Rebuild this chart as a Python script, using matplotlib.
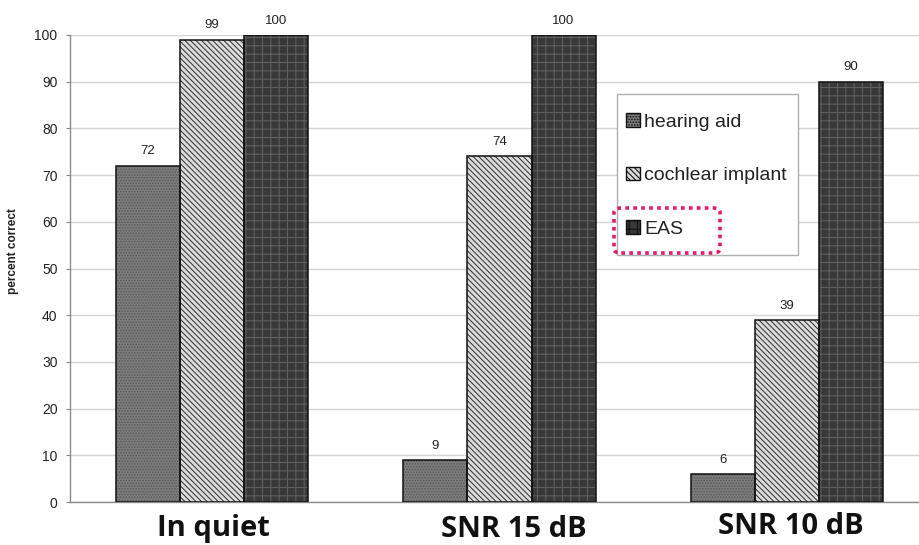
import matplotlib
matplotlib.use("Agg")
import matplotlib.pyplot as plt
from matplotlib.patches import Patch, Rectangle, FancyBboxPatch
from matplotlib.transforms import blended_transform_factory
import numpy as np

plt.rcParams['font.family'] = ['Liberation Sans', 'DejaVu Sans']
plt.rcParams['hatch.linewidth'] = 0.8

# Data
conditions = ["In quiet", "SNR 15 dB", "SNR 10 dB"]
series = ["hearing aid", "cochlear implant", "EAS"]
hearing_aid = [72, 9, 6]
cochlear_implant = [99, 74, 39]
eas = [100, 100, 90]
y_ticks = [0, 10, 20, 30, 40, 50, 60, 70, 80, 90, 100]

# Styles per series: face colour, hatch pattern, hatch colour
styles = [
    ("#7d7d7d", "......", "#5a5a5a"),
    ("#dcdcdc", "\\\\\\\\\\\\", "#404040"),
    ("#383838", "++", "#5e5e5e"),
]

W, H = 920, 545
fig = plt.figure(figsize=(W / 100, H / 100), dpi=100)
ax = fig.add_axes([70 / W, 1 - 502 / H, 850 / W, (502 - 35) / H])

x = np.arange(len(conditions))
width = 0.223
offsets = [-width, 0.0, width]
values = [hearing_aid, cochlear_implant, eas]

for vals, off, (fc, hatch, hc) in zip(values, offsets, styles):
    pos = x + off
    ax.bar(pos, vals, width, color=fc, edgecolor="none", zorder=2)
    ax.bar(pos, vals, width, color="none", edgecolor=hc, hatch=hatch,
           linewidth=0, zorder=3)
    ax.bar(pos, vals, width, color="none", edgecolor="#111111",
           linewidth=1.1, zorder=4)
    for xi, v in zip(pos, vals):
        ax.annotate(f"{v}", (xi, v), xytext=(0, 6), textcoords="offset points",
                    ha="center", va="bottom", fontsize=9.5, color="#222222")

ax.set_xlim(-0.494, 2.463)
ax.set_ylim(0, 100)
ax.set_yticks(y_ticks)
ax.tick_params(axis="y", labelsize=10, length=3, color="#888888",
               labelcolor="#222222", pad=6)
ax.set_xticks([])
ax.grid(axis="y", color="#d4d4d4", linewidth=1.0, zorder=0)
ax.set_axisbelow(True)
for side in ("top", "right"):
    ax.spines[side].set_visible(False)
for side in ("left", "bottom"):
    ax.spines[side].set_color("#8a8a8a")
    ax.spines[side].set_linewidth(1.0)

ax.set_ylabel("percent correct", fontsize=8.5, fontweight="bold", color="#222222")
ax.yaxis.set_label_coords(-51 / 850, 0.537)

# Condition labels under each group
trans = blended_transform_factory(ax.transData, fig.transFigure)
label_shift = [0.005, 0.05, 0.015]
label_base = [536, 537, 534]
for xi, name, dx, yb in zip(x, conditions, label_shift, label_base):
    ax.text(xi + dx, 1 - yb / H, name, transform=trans, ha="center",
            va="baseline", fontsize=21, fontweight="bold",
            family=["Open Sans", "DejaVu Sans"], color="#111111", clip_on=False)

# Legend
handles = [Patch(facecolor=fc, edgecolor="#111111", hatch=h, linewidth=1.0)
           for fc, h, hc in styles]
leg = fig.legend(handles, series, loc="center left",
                 bbox_to_anchor=(626 / W, 1 - 175.5 / H),
                 frameon=False, fontsize=14, borderpad=0, borderaxespad=0,
                 handlelength=0.7, handleheight=0.7, handletextpad=0.25,
                 labelspacing=1.84)
for t in leg.get_texts():
    t.set_color("#222222")
fig.patches.append(Rectangle((617 / W, 1 - 255 / H), 181 / W, 161 / H,
                             transform=fig.transFigure, facecolor="white",
                             edgecolor="#b0b0b0", linewidth=1.0, zorder=5))
leg.set_zorder(6)

# Dotted highlight around the EAS entry
fig.patches.append(FancyBboxPatch((614 / W, 1 - 253 / H), 106 / W, 45 / H,
                                  boxstyle="round,pad=0,rounding_size=0.008",
                                  transform=fig.transFigure, facecolor="none",
                                  edgecolor="#e8176c", linewidth=2.6,
                                  linestyle=(0, (1, 1.2)), zorder=7))

fig.savefig("out.png", dpi=100, facecolor="white")
